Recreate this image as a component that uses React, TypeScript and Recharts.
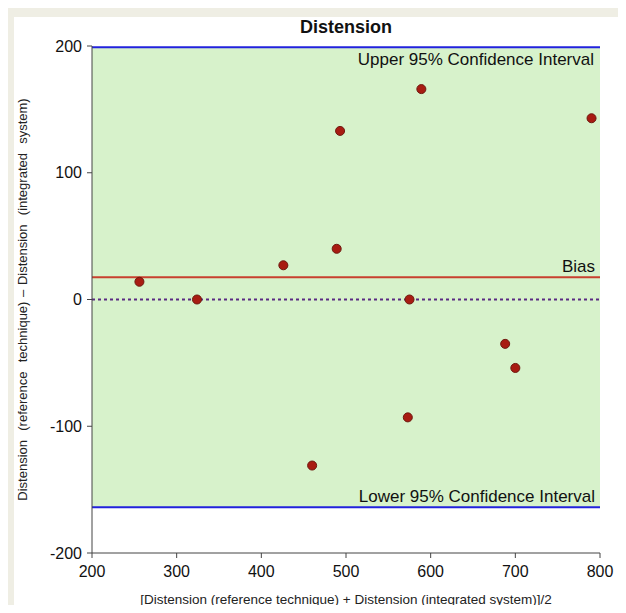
import {
  ScatterChart,
  Scatter,
  XAxis,
  YAxis,
  ZAxis,
  ReferenceArea,
  ReferenceLine,
} from "recharts";

// Bland-Altman: mean of both methods (x) vs difference (y)
const meanValues: number[] = [256, 324, 426, 489, 493, 589, 790, 575, 688, 700, 573, 460];
const diffValues: number[] = [14, 0, 27, 40, 133, 166, 143, 0, -35, -54, -93, -131];

const xTicks: number[] = [200, 300, 400, 500, 600, 700, 800];
const yTicks: number[] = [-200, -100, 0, 100, 200];

const upperLimit = 199;
const lowerLimit = -164;
const bias = 17.5;

const points = meanValues.map((x, i) => ({ x, y: diffValues[i] }));

const FONT = "'Liberation Sans', Arial, sans-serif";

const Y_TITLE = "Distension  (reference  technique) \u2013 Distension  (integrated  system)";

function YTitle(props: any) {
  const vb = props.viewBox || {};
  const cx = 8;
  const cy = (vb.y ?? 0) + (vb.height ?? 0) / 2;
  return (
    <text
      x={cx}
      y={cy}
      transform={`rotate(-90, ${cx}, ${cy})`}
      textAnchor="middle"
      dominantBaseline="central"
      fill="#222"
      fontSize={13}
      fontFamily={FONT}
      style={{ whiteSpace: "pre", wordSpacing: 1 }}
    >
      {Y_TITLE}
    </text>
  );
}

export default function App() {
  return (
    <div
      style={{
        margin: -8,
        width: 626,
        height: 613,
        background: "#efeee4",
        position: "relative",
        overflow: "hidden",
        fontFamily: FONT,
      }}
    >
      <div
        style={{
          position: "absolute",
          left: 14,
          top: 17,
          width: 606,
          height: 596,
          background: "#ffffff",
        }}
      >
        <div
          style={{
            position: "absolute",
            left: 78,
            width: 508,
            top: 0,
            textAlign: "center",
            fontWeight: "bold",
            fontSize: 18,
            color: "#111",
          }}
        >
          Distension
        </div>
        <ScatterChart
          width={606}
          height={596}
          margin={{ top: 29, right: 20, left: 0, bottom: 0 }}
        >
          <XAxis
            type="number"
            dataKey="x"
            domain={[200, 800]}
            ticks={xTicks}
            interval={0}
            height={60}
            tickSize={5}
            tickMargin={8}
            axisLine={{ stroke: "#444" }}
            tickLine={{ stroke: "#444" }}
            tick={{ fill: "#111", fontSize: 16, fontFamily: FONT }}
            label={{
              value: "[Distension (reference technique) + Distension (integrated system)]/2",
              position: "insideBottom",
              offset: 9,
              fill: "#222",
              fontSize: 13.5,
              fontFamily: FONT,
            }}
          />
          <YAxis
            type="number"
            dataKey="y"
            domain={[-200, 200]}
            ticks={yTicks}
            interval={0}
            width={78}
            tickSize={5}
            tickMargin={5}
            axisLine={{ stroke: "#444" }}
            tickLine={{ stroke: "#444" }}
            tick={{ fill: "#111", fontSize: 16, fontFamily: FONT }}
            label={<YTitle />}
          />
          <ZAxis range={[90, 90]} />
          <ReferenceArea
            y1={lowerLimit}
            y2={upperLimit}
            fill="#d7f2cb"
            fillOpacity={1}
            stroke="none"
          />
          <ReferenceLine
            y={upperLimit}
            stroke="#2222dd"
            strokeWidth={2}
            label={{
              value: "Upper 95% Confidence Interval",
              position: "insideTopRight",
              offset: 6,
              fill: "#111",
              fontSize: 17,
              fontFamily: FONT,
            }}
          />
          <ReferenceLine
            y={lowerLimit}
            stroke="#2222dd"
            strokeWidth={2}
            label={{
              value: "Lower 95% Confidence Interval",
              position: "insideBottomRight",
              offset: 5,
              fill: "#111",
              fontSize: 17,
              fontFamily: FONT,
            }}
          />
          <ReferenceLine
            y={bias}
            stroke="#c8402f"
            strokeWidth={2}
            label={{
              value: "Bias",
              position: "insideBottomRight",
              offset: 5,
              fill: "#111",
              fontSize: 17,
              fontFamily: FONT,
            }}
          />
          <ReferenceLine
            y={0}
            stroke="#5a2a82"
            strokeWidth={2}
            strokeDasharray="3 3"
          />
          <Scatter
            data={points}
            fill="#a81c12"
            stroke="#6e1a10"
            strokeWidth={1}
            shape="circle"
            isAnimationActive={false}
          />
        </ScatterChart>
      </div>
    </div>
  );
}
